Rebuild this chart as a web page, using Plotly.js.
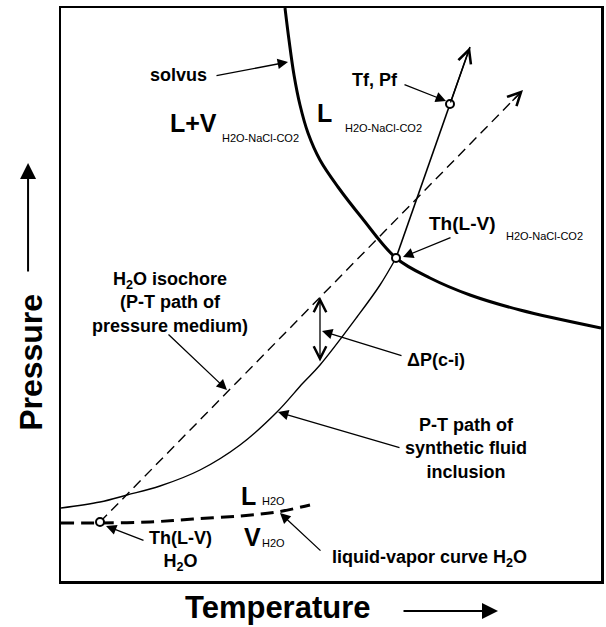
<!DOCTYPE html>
<html>
<head>
<meta charset="utf-8">
<script src="https://cdn.plot.ly/plotly-3.0.1.min.js"></script>
<style>html,body{margin:0;padding:0;background:#fff;}#chart{width:606px;height:627px;}</style>
</head>
<body>
<div id="chart"></div>
<script>
// Schematic P-T diagram (arbitrary units: temperature 0-540, pressure 0-573)
var solvusT = [224, 228, 233, 239, 247, 259, 277, 301, 335, 369, 409, 459, 540];
var solvusP = [573, 541, 506, 476, 448, 421, 394, 363, 323, 303, 286, 271, 253];

var inclusionT = [0, 39, 66, 99, 139, 179, 216, 242, 259, 296, 319, 335];
var inclusionP = [73, 79, 86, 95, 111, 136, 169, 198, 216, 264, 296, 323];

var heatingT = [335, 389, 409];
var heatingP = [323, 477, 534];

var isochoreT = [39, 462];
var isochoreP = [59, 491];

var lvCurveT = [0, 39, 89, 132, 179, 216, 249];
var lvCurveP = [58, 58, 59, 62, 65, 69, 76];

var pointT = [39, 335, 389];
var pointP = [59, 323, 477];

var deltaPT = 259;
var deltaPLow = 218;
var deltaPHigh = 284;

var FONT = 'Liberation Sans, Arial, Helvetica, sans-serif';

var traces = [
  {x: solvusT, y: solvusP, mode: 'lines', line: {color: '#000', width: 3, shape: 'spline'}},
  {x: inclusionT, y: inclusionP, mode: 'lines', line: {color: '#000', width: 1.4, shape: 'spline'}},
  {x: heatingT, y: heatingP, mode: 'lines', line: {color: '#000', width: 1.6}},
  {x: isochoreT, y: isochoreP, mode: 'lines', line: {color: '#000', width: 1.4, dash: '10px,6px'}},
  {x: lvCurveT, y: lvCurveP, mode: 'lines', line: {color: '#000', width: 3, dash: '13px,7px', shape: 'spline'}},
  {x: pointT, y: pointP, mode: 'markers', marker: {symbol: 'circle', size: 8, color: '#fff', line: {color: '#000', width: 2}}}
];
traces.forEach(function(t){ t.type = 'scatter'; t.showlegend = false; t.hoverinfo = 'skip'; });

function txt(x, y, text, size, opts) {
  var a = {x: x, y: y, xref: 'x', yref: 'y', text: text, showarrow: false,
           font: {family: FONT, size: size, color: '#000'}, xanchor: 'center', yanchor: 'middle'};
  if (opts) for (var k in opts) a[k] = opts[k];
  return a;
}
function arrow(ax, ay, x, y, head, w, sz, opts) {
  var a = {x: x, y: y, ax: ax, ay: ay, xref: 'x', yref: 'y', axref: 'x', ayref: 'y', text: '',
           showarrow: true, arrowhead: head, arrowwidth: w, arrowsize: sz, arrowcolor: '#000'};
  if (opts) for (var k in opts) a[k] = opts[k];
  return a;
}
function ptxt(x, y, text, size, opts) {
  var a = txt(x, y, text, size, opts);
  a.xref = 'paper'; a.yref = 'paper';
  return a;
}
function parrow(ax, ay, x, y, head, w, sz) {
  var a = arrow(ax, ay, x, y, head, w, sz);
  a.xref = 'paper'; a.yref = 'paper'; a.axref = 'paper'; a.ayref = 'paper';
  return a;
}

var last = heatingT.length - 1;
var annotations = [
  // labels
  txt(117, 506, '<b>solvus</b>', 18),
  txt(132, 458, '<b>L+V</b>', 25),
  txt(199, 443, 'H2O-NaCl-CO2', 11),
  txt(263, 468, '<b>L</b>', 25),
  txt(322, 453, 'H2O-NaCl-CO2', 11),
  txt(314, 501, '<b>Tf, Pf</b>', 18),
  txt(401, 358, '<b>Th(L-V)</b>', 19),
  txt(483, 345, 'H2O-NaCl-CO2', 11),
  txt(109, 279, '<b>H<sub>2</sub>O isochore<br>(P-T path of<br>pressure medium)</b>', 18),
  txt(375, 221, '<b>\u0394P(c-i)</b>', 18),
  txt(405, 133, '<b>P-T path of<br>synthetic fluid<br>inclusion</b>', 18),
  txt(187, 85, '<b>L</b>', 25),
  txt(212, 80, 'H2O', 11),
  txt(191, 44, '<b>V</b>', 25),
  txt(212, 38, 'H2O', 11),
  txt(119, 30, '<b>Th(L-V)<br>H<sub>2</sub>O</b>', 18),
  txt(368, 23, '<b>liquid-vapor curve H<sub>2</sub>O</b>', 18),
  // axis titles (outside the plot area, paper coordinates)
  ptxt(-0.056, 0.382, '<b>Pressure</b>', 32, {textangle: -90}),
  ptxt(0.402, -0.0455, '<b>Temperature</b>', 31),
  parrow(-0.061, 0.5375, -0.061, 0.7295, 2, 2, 1.6),
  parrow(0.6315, -0.0525, 0.8093, -0.0525, 2, 2, 1.6),
  // pointer arrows (filled)
  arrow(154, 505, 227, 519, 2, 1.3, 1.6),
  arrow(342, 497, 385, 480, 2, 1.3, 1.6),
  arrow(391, 344, 342, 324, 2, 1.3, 1.6),
  arrow(106, 248, 166, 191, 2, 1.3, 1.6),
  arrow(342, 225, 261, 250, 2, 1.3, 1.6),
  arrow(340, 133, 217, 169, 2, 1.3, 1.6),
  arrow(84, 40, 45, 55, 2, 1.3, 1.6),
  arrow(261, 29, 219, 68, 2, 1.3, 1.6),
  // open arrowheads at line ends
  arrow(heatingT[last - 1], heatingP[last - 1], heatingT[last], heatingP[last], 5, 1.3, 2),
  arrow(isochoreT[1] - 12, isochoreP[1] - 12.3, isochoreT[1], isochoreP[1], 5, 1.3, 2),
  arrow(deltaPT, deltaPLow, deltaPT, deltaPHigh, 5, 1.3, 1.9, {arrowside: 'end+start', startarrowhead: 5, startarrowsize: 1.9})
];

var axisCommon = {showgrid: false, zeroline: false, showticklabels: false, ticks: '',
                  showline: true, mirror: true, linecolor: '#000', linewidth: 2.5, fixedrange: true};

var layout = {
  width: 606, height: 627,
  margin: {l: 61, r: 5, t: 8, b: 46, pad: 0},
  paper_bgcolor: '#fff', plot_bgcolor: '#fff',
  xaxis: Object.assign({range: [0, 540]}, axisCommon),
  yaxis: Object.assign({range: [0, 573]}, axisCommon),
  annotations: annotations,
  showlegend: false,
  font: {family: FONT}
};

Plotly.newPlot('chart', traces, layout, {staticPlot: true, displayModeBar: false});
</script>
</body>
</html>
